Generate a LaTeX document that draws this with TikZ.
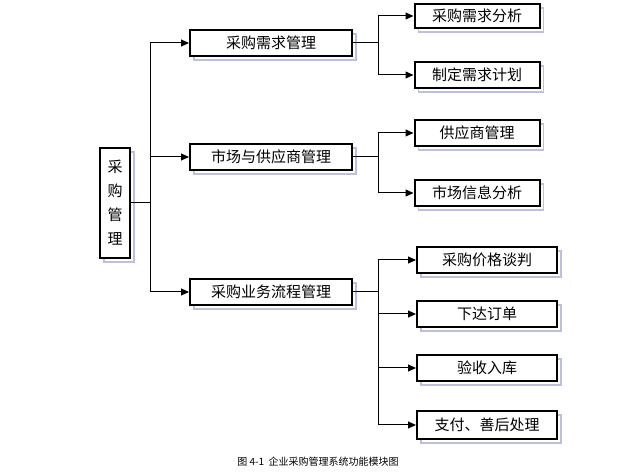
\documentclass[tikz,border=0pt]{standalone}
\usepackage{fontspec}
\newfontfamily\cjk{Noto Sans CJK SC}
\usetikzlibrary{shadows,arrows.meta}
\begin{document}
\begin{tikzpicture}[x=1pt,y=-1pt,
  box/.style={draw=black,line width=2pt,fill=white,inner sep=0pt,font=\cjk\fontsize{15}{17}\selectfont,
    general shadow={draw=blue!25!gray!40,line width=1.2pt,fill=none,shadow xshift=4pt,shadow yshift=-4pt}},
  con/.style={line width=1pt},
  arr/.style={con,-{Triangle[length=8pt,width=7pt]}}]
\useasboundingbox (0,0) rectangle (633,473);
\node[box,minimum width=30pt,minimum height=110pt,align=center,text width=16pt,font=\cjk\fontsize{15}{24}\selectfont] (root) at (115,203) {采\\购\\管\\理};
\node[box,minimum width=162pt,minimum height=26pt] (a) at (271,43) {采购需求管理};
\node[box,minimum width=162pt,minimum height=26pt] (b) at (271,157) {市场与供应商管理};
\node[box,minimum width=162pt,minimum height=26pt] (c) at (271,292) {采购业务流程管理};
\node[box,minimum width=125pt,minimum height=24pt] (a1) at (477,16) {采购需求分析};
\node[box,minimum width=125pt,minimum height=26pt] (a2) at (477,75) {制定需求计划};
\node[box,minimum width=125pt,minimum height=26pt] (b1) at (477,133) {供应商管理};
\node[box,minimum width=125pt,minimum height=26pt] (b2) at (477,193) {市场信息分析};
\node[box,minimum width=140pt,minimum height=26pt] (c1) at (487,260) {采购价格谈判};
\node[box,minimum width=140pt,minimum height=26pt] (c2) at (487,314) {下达订单};
\node[box,minimum width=140pt,minimum height=26pt] (c3) at (487,368) {验收入库};
\node[box,minimum width=140pt,minimum height=28pt] (c4) at (487,425) {支付、善后处理};
\node[font=\cjk\fontsize{10}{11}\selectfont] (cap) at (318,462) {图 4-1 \ 企业采购管理系统功能模块图};
\coordinate (t) at (150,0);
\draw[con] (root.east) -- (root.east -| t);
\draw[arr] (root.east -| t) |- (a.west);
\draw[arr] (root.east -| t) |- (b.west);
\draw[arr] (root.east -| t) |- (c.west);
\coordinate (u) at (378,0);
\foreach \p/\k in {a/a1,a/a2,b/b1,b/b2,c/c1,c/c2,c/c3,c/c4}{
  \draw[con] (\p.east) -- (\p.east -| u);
  \draw[arr] (\p.east -| u) |- (\k.west);
}
\end{tikzpicture}
\end{document}
